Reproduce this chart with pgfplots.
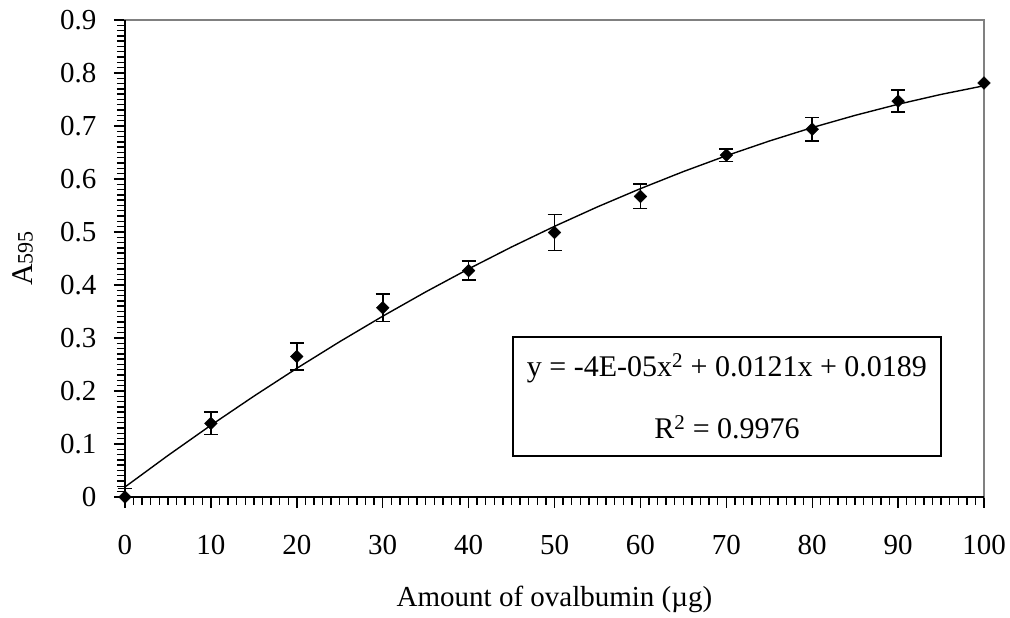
\documentclass[border=0pt]{standalone}
\usepackage{pgfplots}
\pgfplotsset{compat=1.18}
\usepackage{pgfplotstable}
\usepackage{fontspec}
\setmainfont{Liberation Serif}

% Bradford assay: mean absorbance at 595 nm with error (plus / minus)
\pgfplotstableread{
x    y      ep     em
0    0.000  0.016  0
10   0.139  0.021  0.021
20   0.265  0.025  0.025
30   0.357  0.026  0.026
40   0.427  0.018  0.018
50   0.499  0.034  0.034
60   0.567  0.023  0.023
70   0.645  0.012  0.012
80   0.694  0.022  0.022
90   0.747  0.021  0.021
}\assay

\pgfplotstableread{
x    y
100  0.781
}\lastpoint

% polynomial trend line, sampled every 5 ug
\pgfplotstableread{
x    y
0    0.0189
5    0.0783
10   0.1354
15   0.1902
20   0.2428
25   0.2931
30   0.3411
35   0.3869
40   0.4304
45   0.4717
50   0.5107
55   0.5474
60   0.5818
65   0.6140
70   0.6439
75   0.6716
80   0.6970
85   0.7201
90   0.7410
95   0.7596
100  0.7759
}\trend

\begin{document}
\begin{tikzpicture}[font=\fontsize{29}{34}\selectfont]
\useasboundingbox (-125pt,-121pt) rectangle (885pt,497pt);
\begin{axis}[
  at={(0,0)}, anchor=south west,
  scale only axis, width=859pt, height=477pt,
  xmin=0, xmax=100, ymin=0, ymax=0.9,
  xtick={0,10,20,30,40,50,60,70,80,90,100},
  ytick={0,0.1,0.2,0.3,0.4,0.5,0.6,0.7,0.8,0.9},
  minor x tick num=9, minor y tick num=9,
  tick align=outside, tick pos=left,
  major tick length=11pt, minor tick length=8pt,
  every tick/.append style={black, line width=1.4pt},
  every minor tick/.append style={black, line width=1.4pt},
  axis line style={draw=gray, line width=1.5pt},
  /pgf/number format/assume math mode=true,
  /pgf/number format/fixed,
  /pgf/number format/precision=1,
  xticklabel shift=24pt,
  yticklabel shift=14pt,
  xlabel={Amount of ovalbumin (µg)},
  ylabel={{\fontsize{30}{30}\selectfont A}{\fontsize{22}{22}\selectfont 595}},
  xlabel style={at={(axis description cs:0.5,-0.214)}, anchor=center},
  ylabel style={at={(axis description cs:-0.119,0.5)}, anchor=center},
  clip=false,
]
\addplot[black, line width=1.4pt] table[x=x, y=y] {\trend};
\addplot[black, only marks, mark=square*, mark size=4.5pt,
  mark options={rotate=45, fill=black},
  error bars/.cd, y dir=both, y explicit,
  error bar style={line width=1.6pt},
  error mark options={rotate=90, mark size=7pt, line width=1.6pt}]
  table[x=x, y=y, y error plus=ep, y error minus=em] {\assay};
\addplot[black, only marks, mark=square*, mark size=4.5pt,
  mark options={rotate=45, fill=black}]
  table[x=x, y=y] {\lastpoint};
\draw[black, line width=1.6pt] (rel axis cs:0,1) -- (rel axis cs:0,0) -- (rel axis cs:1,0);
\node[draw=black, line width=1.3pt, fill=white, minimum width=428pt,
  minimum height=119pt, inner sep=0pt, align=center,
  font=\fontsize{30}{62}\selectfont]
  at (axis cs:70.08,0.1896)
  {y = -4E-05x\textsuperscript{2} + 0.0121x + 0.0189\\R\textsuperscript{2} = 0.9976};
\end{axis}
\end{tikzpicture}
\end{document}
